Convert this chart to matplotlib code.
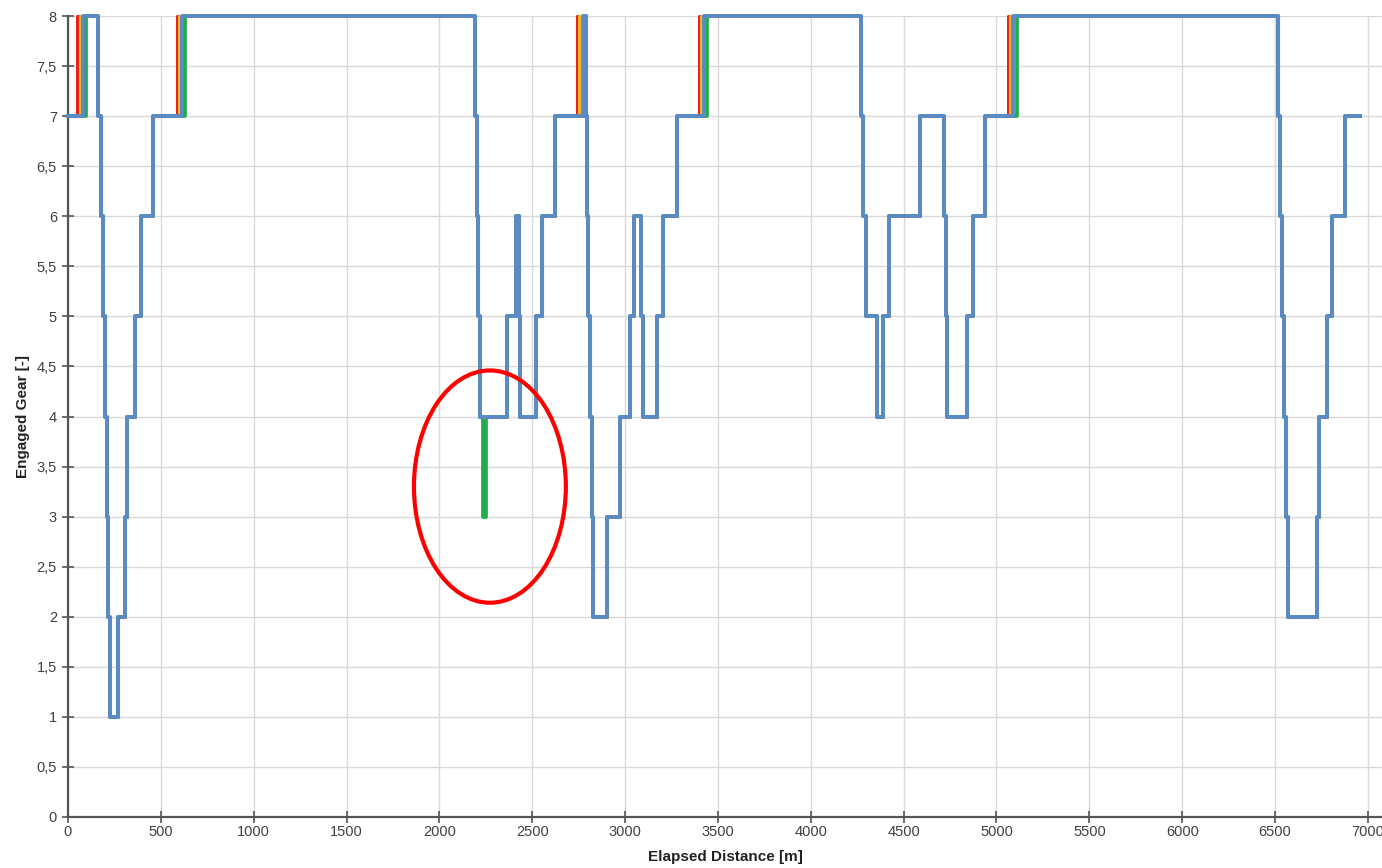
import matplotlib
matplotlib.use("Agg")
import matplotlib.pyplot as plt
from matplotlib.patches import Ellipse
from matplotlib.ticker import FuncFormatter, MultipleLocator

plt.rcParams['font.family'] = ['Liberation Sans', 'DejaVu Sans']

# ---- data (distance in m where gear changes, new gear) ----
blue_dist = [0, 82, 163, 178, 186, 198, 210, 216, 226, 269, 307, 320, 361, 395, 458,
             616, 2192, 2200, 2209, 2218, 2362, 2410, 2428, 2436, 2520, 2551, 2623,
             2775, 2790, 2795, 2800, 2811, 2820, 2827, 2903, 2973, 3024, 3048, 3088,
             3098, 3170, 3202, 3277, 3425, 4268, 4279, 4297, 4355, 4387, 4423, 4588,
             4720, 4727, 4733, 4839, 4872, 4938, 5091, 6516, 6525, 6535, 6548, 6560,
             6570, 6724, 6738, 6778, 6805, 6877, 6958]
blue_gear = [7, 8, 7, 6, 5, 4, 3, 2, 1, 2, 3, 4, 5, 6, 7,
             8, 7, 6, 5, 4, 5, 6, 5, 4, 5, 6, 7,
             8, 7, 6, 5, 4, 3, 2, 3, 4, 5, 6, 5,
             4, 5, 6, 7, 8, 7, 6, 5, 4, 5, 6, 7,
             6, 5, 4, 5, 6, 7, 8, 7, 6, 5, 4, 3,
             2, 3, 4, 5, 6, 7, 7]

# distances of the upshifts into 8th gear for the other runs
red_upshifts = [50, 585, 2743, 3396, 5064]
orange_upshifts = [65, 598, 2754, 3407, 5073]
green_upshifts = [95, 630, 2778, 3439, 5109]

# short drop to 3rd gear in the green run
green_dip_dist = [2235, 2250]
green_dip_gear = [3, 4]

xticks = list(range(0, 7001, 500))
x_max = 7076
y_max = 8

# annotation ellipse (centre distance, centre gear, width m, height gears)
ell_cx, ell_cy, ell_w, ell_h = 2272, 3.30, 818, 2.32


def with_upshifts(dist, gear, ups):
    d = list(dist)
    k = 0
    for i in range(1, len(gear)):
        if gear[i] == 8 and gear[i - 1] == 7:
            d[i] = ups[k]
            k += 1
    return d, list(gear)


red_d, red_g = with_upshifts(blue_dist, blue_gear, red_upshifts)
org_d, org_g = with_upshifts(blue_dist, blue_gear, orange_upshifts)
grn_d, grn_g = with_upshifts(blue_dist, blue_gear, green_upshifts)
# insert green dip
pairs = sorted(list(zip(grn_d, grn_g)) + list(zip(green_dip_dist, green_dip_gear)),
               key=lambda p: p[0])
grn_d = [p[0] for p in pairs]
grn_g = [p[1] for p in pairs]

fig = plt.figure(figsize=(13.82, 8.68), dpi=100)
ax = fig.add_axes([68 / 1382, 1 - 817 / 868, 1 - 68 / 1382, (817 - 16) / 868])

ax.step(red_d, red_g, where='post', color='#e8231b', lw=2.2, clip_on=False, zorder=3)
ax.step(org_d, org_g, where='post', color='#f7b52b', lw=2.2, clip_on=False, zorder=4)
ax.step(grn_d, grn_g, where='post', color='#22ad4b', lw=2.7, clip_on=False, zorder=5)
ax.step(blue_dist, blue_gear, where='post', color='#5b8ac4', lw=2.8, clip_on=False, zorder=6)

ax.add_patch(Ellipse((ell_cx, ell_cy), ell_w, ell_h, fill=False,
                     edgecolor='#ff0000', lw=3.0, zorder=7))

ax.set_xlim(0, x_max)
ax.set_ylim(0, y_max)
ax.set_xticks(xticks)
ax.yaxis.set_major_locator(MultipleLocator(0.5))
ax.yaxis.set_major_formatter(FuncFormatter(lambda v, p: ('%g' % v).replace('.', ',')))

ax.grid(True, color='#d9d9d9', lw=1.0, zorder=0)
ax.set_axisbelow(True)
for s in ['top', 'right']:
    ax.spines[s].set_visible(False)
for s in ['left', 'bottom']:
    ax.spines[s].set_color('#555555')
    ax.spines[s].set_linewidth(1.6)

ax.tick_params(axis='both', direction='inout', length=8, width=1.2, color='#555555',
               labelsize=10.5, labelcolor='#404040')
ax.tick_params(axis='y', pad=4)
ax.tick_params(axis='x', pad=2)

ax.set_xlabel('Elapsed Distance [m]', fontsize=11, fontweight='bold', color='#222222', labelpad=8)
ax.set_ylabel('Engaged Gear [-]', fontsize=11, fontweight='bold', color='#222222', labelpad=5)

fig.savefig('out.png', dpi=100)
